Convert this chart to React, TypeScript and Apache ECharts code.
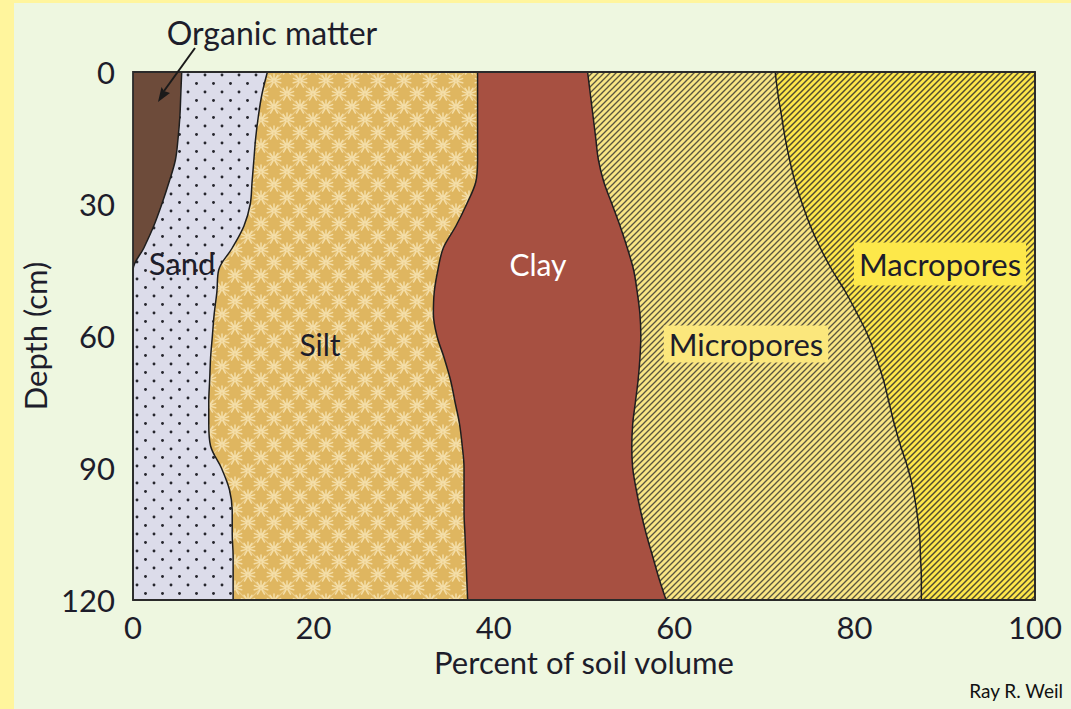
import React, { useEffect, useRef } from "react";
import * as echarts from "echarts";

// Depth categories (cm), every 5 cm
const depths = ["0","5","10","15","20","25","30","35","40","45","50","55","60","65","70","75","80","85","90","95","100","105","110","115","120"];
const depthTickLabels = ["0", "30", "60", "90", "120"];

// Cumulative percent of soil volume at the right edge of each component
const organicEdge = [5.4,5.3,5.2,5.0,4.7,4.0,3.2,2.3,1.2,0,0,0,0,0,0,0,0,0,0,0,0,0,0,0,0];
const sandEdge = [14.9,14.3,13.9,13.6,13.4,13.2,13.0,12.3,11.0,9.5,9.3,9.0,8.8,8.6,8.5,8.4,8.4,8.6,9.8,10.7,11.0,11.0,11.1,11.1,11.1];
const siltEdge = [38.2,38.2,38.2,38.2,38.2,38.0,37.0,35.8,34.4,33.8,33.4,33.3,33.7,34.5,35.2,35.7,36.2,36.5,36.7,36.7,36.7,36.8,36.9,37.0,37.1];
const clayEdge = [50.4,50.7,51.0,51.3,51.6,52.2,53.1,54.0,54.8,55.5,55.9,56.2,56.3,56.2,56.0,55.7,55.4,55.3,55.4,55.8,56.3,56.9,57.6,58.3,59.1];
const microEdge = [71.2,71.5,71.9,72.3,72.8,73.4,74.2,75.1,76.2,77.5,79.0,80.3,81.5,82.4,83.2,83.8,84.4,85.1,85.9,86.5,86.9,87.2,87.3,87.4,87.4];
const macroEdge = [100,100,100,100,100,100,100,100,100,100,100,100,100,100,100,100,100,100,100,100,100,100,100,100,100];

const FONT = "Lato";
const INK = "#1d1d2b";

function makePattern(w: number, h: number, draw: (ctx: CanvasRenderingContext2D) => void) {
  const c = document.createElement("canvas");
  c.width = w;
  c.height = h;
  const ctx = c.getContext("2d") as CanvasRenderingContext2D;
  draw(ctx);
  return { image: c.toDataURL(), repeat: "repeat", imageWidth: w, imageHeight: h };
}

function hatch(bg: string, fg: string, size: number, lw: number) {
  return makePattern(size, size, (ctx) => {
    ctx.fillStyle = bg;
    ctx.fillRect(0, 0, size, size);
    ctx.strokeStyle = fg;
    ctx.lineWidth = lw;
    ctx.beginPath();
    for (const o of [-size, 0, size]) {
      ctx.moveTo(o - 1, size + 1);
      ctx.lineTo(o + size + 1, -1);
    }
    ctx.stroke();
  });
}

function sandPattern() {
  const s = 17;
  return makePattern(s, s, (ctx) => {
    ctx.fillStyle = "#dcdcea";
    ctx.fillRect(0, 0, s, s);
    ctx.fillStyle = "#26262e";
    for (const [x, y] of [[4, 4], [12.5, 12.5]]) {
      ctx.beginPath();
      ctx.arc(x, y, 1.45, 0, Math.PI * 2);
      ctx.fill();
    }
  });
}

function siltPattern() {
  const s = 26;
  return makePattern(s, s, (ctx) => {
    ctx.fillStyle = "#dfb660";
    ctx.fillRect(0, 0, s, s);
    ctx.strokeStyle = "#ecce8c";
    ctx.lineWidth = 1.1;
    ctx.beginPath();
    ctx.moveTo(0, 0); ctx.lineTo(s, s);
    ctx.moveTo(s, 0); ctx.lineTo(0, s);
    ctx.stroke();
    ctx.strokeStyle = "#f4dea8";
    ctx.lineWidth = 1.5;
    ctx.lineCap = "round";
    const star = (cx: number, cy: number) => {
      ctx.beginPath();
      const angs = [-90, -55, -125, -20, -160, 15, 165, 60, 120];
      for (const a of angs) {
        const r = (a * Math.PI) / 180;
        ctx.moveTo(cx + Math.cos(r) * 1.5, cy + Math.sin(r) * 1.5);
        ctx.lineTo(cx + Math.cos(r) * 7, cy + Math.sin(r) * 7);
      }
      ctx.stroke();
    };
    for (const [x, y] of [[0, 0], [s, 0], [0, s], [s, s], [s / 2, s / 2]]) star(x, y);
  });
}

export default function App() {
  const ref = useRef<HTMLDivElement>(null);
  useEffect(() => {
    const chart = echarts.init(ref.current as HTMLDivElement, null, { renderer: "svg" });

    const layer = (name: string, data: number[], fill: any) => ({
      type: "line",
      name,
      data,
      smooth: 0.35,
      symbol: "none",
      showSymbol: false,
      silent: true,
      lineStyle: { color: "#1e1e1e", width: 1.5 },
      areaStyle: { color: fill, opacity: 1 },
    });

    const txt = (text: string, x: number, y: number, extra: any = {}) => ({
      type: "text",
      x,
      y,
      silent: true,
      z: 20,
      style: {
        text,
        font: `31px ${FONT}`,
        fill: INK,
        align: "center",
        verticalAlign: "middle",
        ...extra,
      },
    });

    const option: any = {
      animation: false,
      backgroundColor: "#eef7e0",
      grid: {
        left: 119,
        right: 36,
        top: 69,
        bottom: 109,
        show: true,
        z: 10,
        backgroundColor: "rgba(0,0,0,0)",
        borderColor: "#2a2a2a",
        borderWidth: 1.8,
        outerBoundsMode: "none",
      },
      xAxis: {
        type: "value",
        min: 0,
        max: 100,
        interval: 20,
        name: "Percent of soil volume",
        nameLocation: "middle",
        nameGap: 38,
        nameTextStyle: { fontFamily: FONT, fontSize: 31, color: INK },
        axisLine: { show: false },
        axisTick: { show: false },
        splitLine: { show: false },
        axisLabel: { fontFamily: FONT, fontSize: 31, color: INK, margin: 11 },
      },
      yAxis: {
        type: "category",
        data: depths,
        inverse: true,
        boundaryGap: false,
        name: "Depth (cm)",
        nameLocation: "middle",
        nameRotate: 90,
        nameGap: 78,
        nameTextStyle: { fontFamily: FONT, fontSize: 31, color: INK },
        axisLine: { show: false },
        axisTick: { show: false },
        splitLine: { show: false },
        axisLabel: {
          fontFamily: FONT,
          fontSize: 31,
          color: INK,
          margin: 18,
          interval: (_i: number, v: string) => depthTickLabels.includes(v),
        },
      },
      series: [
        layer("Macropores", macroEdge, hatch("#fde64a", "#514c30", 6, 1.45)),
        layer("Micropores", microEdge, hatch("#f8e584", "#5a553f", 6, 1.35)),
        layer("Clay", clayEdge, "#a75041"),
        layer("Silt", siltEdge, siltPattern()),
        layer("Sand", sandEdge, sandPattern()),
        layer("Organic matter", organicEdge, "#6d4b3a"),
      ],
      graphic: [
        txt("Organic matter", 258, 29, { font: `32px ${FONT}` }),
        {
          type: "line",
          silent: true,
          z: 20,
          shape: { x1: 181, y1: 45, x2: 150, y2: 88 },
          style: { stroke: "#1a1a1a", lineWidth: 2 },
        },
        {
          type: "polygon",
          silent: true,
          z: 20,
          shape: { points: [[144, 99], [156, 90], [150, 88], [147.5, 84]] },
          style: { fill: "#1a1a1a" },
        },
        txt("Sand", 168, 260),
        txt("Silt", 306, 341, { font: `30px ${FONT}` }),
        txt("Clay", 524, 261, { font: `30px ${FONT}`, fill: "#ffffff" }),
        txt("Micropores", 732, 341, {
          backgroundColor: "#fbe77c",
          padding: [3, 5, 3, 5],
        }),
        txt("Macropores", 926, 261, {
          backgroundColor: "#fde84a",
          padding: [6, 5, 6, 5],
        }),
        txt("Ray R. Weil", 1049, 687, { font: `19px ${FONT}`, fill: "#111", align: "right" }),
      ],
    };

    chart.setOption(option);
    return () => chart.dispose();
  }, []);

  return (
    <div
      style={{
        position: "fixed",
        left: 0,
        top: 0,
        width: 1071,
        height: 709,
        background: "#fff59d",
        overflow: "hidden",
      }}
    >
      <div ref={ref} style={{ position: "absolute", left: 14, top: 3, width: 1057, height: 706 }} />
    </div>
  );
}
